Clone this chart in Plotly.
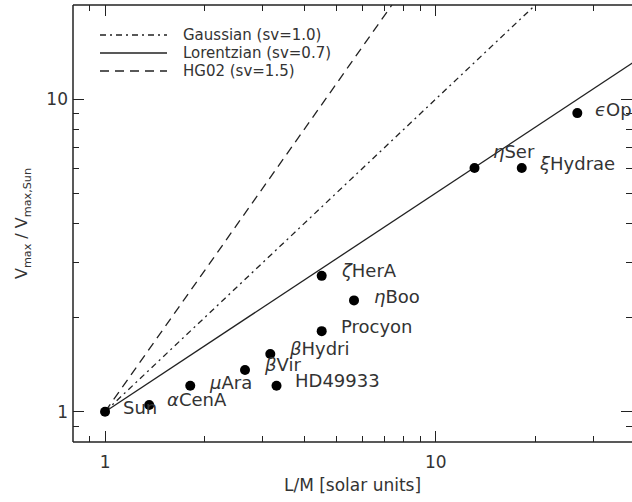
import plotly.graph_objects as go
import math

# ---------------- data ----------------
star_names = ["Sun", "<i>α</i>CenA", "<i>μ</i>Ara", "<i>β</i>Vir", "<i>β</i>Hydri",
              "HD49933", "Procyon", "<i>ζ</i>HerA", "<i>η</i>Boo", "<i>η</i>Ser",
              "<i>ξ</i>Hydrae", "<i>ϵ</i>Oph"]
star_lm = [1.0, 1.36, 1.81, 2.65, 3.16, 3.30, 4.52, 4.52, 5.66, 13.1, 18.2, 26.8]
star_vmax = [1.0, 1.05, 1.21, 1.36, 1.53, 1.21, 1.81, 2.72, 2.27, 6.02, 6.02, 9.02]

model_names = ["Gaussian (sv=1.0)", "Lorentzian (sv=0.7)", "HG02 (sv=1.5)"]
gauss_x = [1.0, 20.0]
gauss_y = [1.0, 20.0]
lor_x = [1.0, 40.0]
lor_y = [1.0, 13.2]
hg_x = [1.0, 7.37]
hg_y = [1.0, 20.0]

x_ticks = [1, 10]
y_ticks = [1, 10]
x_minor = [0.9, 2, 3, 4, 5, 6, 7, 8, 9, 20, 30]
y_minor = [0.9, 2, 3, 4, 5, 6, 7, 8, 9]

# ---------------- styling ----------------
W, H = 632, 502
ML, MR, MT, MB = 73, 0, 5, 60
FONT = "DejaVu Sans"
INK = "#222222"
TXT = "#333333"
dash_styles = ["6px,4px,2px,4px", "solid", "9px,6px"]
# label offsets in pixels (dx right, dy up), per star
label_dx = [16, 16, 17, 17, 17, 16, 17, 17, 18, 16, 15, 16]
label_dy = [4, 6, 3, 5, 5, 5, 5, 5, 4, 17, 5, 4]

fig = go.Figure()
series = [(gauss_x, gauss_y), (lor_x, lor_y), (hg_x, hg_y)]
for name, (xs, ys), d in zip(model_names, series, dash_styles):
    fig.add_trace(go.Scatter(x=xs, y=ys, mode="lines", name=name, showlegend=False,
                             line=dict(color=INK, width=1.3, dash=d), cliponaxis=True))

fig.add_trace(go.Scatter(x=star_lm, y=star_vmax, mode="markers", name="stars",
                         showlegend=False, cliponaxis=False,
                         marker=dict(color="black", size=10)))

# invisible trace to activate the mirror (top/right) axes
fig.add_trace(go.Scatter(x=[1], y=[1], xaxis="x2", yaxis="y2", mode="markers",
                         marker=dict(opacity=0), showlegend=False, hoverinfo="skip"))

for nm, xv, yv, dx, dy in zip(star_names, star_lm, star_vmax, label_dx, label_dy):
    fig.add_annotation(x=math.log10(xv), y=math.log10(yv), text=nm, showarrow=False,
                       xanchor="left", yanchor="middle", xshift=dx, yshift=dy,
                       font=dict(family=FONT, size=18, color=TXT))

# manual legend (pixel -> paper)
pw, ph = W - ML - MR, H - MT - MB
def px(x):
    return (x - ML) / pw
def py(y):
    return (H - MB - y) / ph

leg_rows = [35, 53, 71]
for name, d, yy in zip(model_names, dash_styles, leg_rows):
    fig.add_shape(type="line", xref="paper", yref="paper",
                  x0=px(100), x1=px(167), y0=py(yy), y1=py(yy),
                  line=dict(color=INK, width=1.3, dash=d))
    fig.add_annotation(xref="paper", yref="paper", x=px(181), y=py(yy), text=name,
                       showarrow=False, xanchor="left", yanchor="middle",
                       font=dict(family=FONT, size=15, color=TXT))

# frame lines (left, top, bottom) ; right edge lies just outside the view
for x0, y0, x1, y1 in [(0, 0, 0, 1), (0, 1, 1, 1), (0, 0, 1, 0)]:
    fig.add_shape(type="line", xref="paper", yref="paper", x0=x0, y0=y0, x1=x1, y1=y1,
                  line=dict(color=INK, width=1.5))

x_rng = [math.log10(0.8), math.log10(0.8) + (pw / 330.7)]
y_rng = [math.log10(0.8), math.log10(20)]
tick_common = dict(showline=False, showgrid=False, zeroline=False, automargin=False,
                   ticks="inside", ticklen=11, tickwidth=1.3, tickcolor=INK)

fig.update_layout(
    xaxis=dict(type="log", range=x_rng, tickvals=x_ticks,
               ticktext=[str(v) for v in x_ticks], ticklabelstandoff=8,
               tickfont=dict(family=FONT, size=17, color=TXT),
               minor=dict(tickvals=x_minor, ticks="inside", ticklen=6,
                          tickwidth=1.3, tickcolor=INK, showgrid=False),
               title=dict(text="L/M [solar units]", standoff=8,
                          font=dict(family=FONT, size=17, color=TXT)),
               **tick_common),
    yaxis=dict(type="log", range=y_rng, tickvals=y_ticks,
               ticktext=[str(v) for v in y_ticks], ticklabelstandoff=4,
               tickfont=dict(family=FONT, size=17, color=TXT),
               minor=dict(tickvals=y_minor, ticks="inside", ticklen=6,
                          tickwidth=1.3, tickcolor=INK, showgrid=False),
               title=dict(text="V<sub>max</sub> / V<sub>max,Sun</sub>", standoff=14,
                          font=dict(family=FONT, size=16, color=TXT)),
               **tick_common),
    xaxis2=dict(type="log", range=x_rng, overlaying="x", side="top", anchor="y2",
                tickvals=x_ticks, showticklabels=False,
                minor=dict(tickvals=x_minor, ticks="inside", ticklen=6,
                           tickwidth=1.3, tickcolor=INK, showgrid=False),
                **tick_common),
    yaxis2=dict(type="log", range=y_rng, overlaying="y", side="right", anchor="x2",
                tickvals=y_ticks, showticklabels=False,
                minor=dict(tickvals=y_minor, ticks="inside", ticklen=6,
                           tickwidth=1.3, tickcolor=INK, showgrid=False),
                **tick_common),
    width=W, height=H, margin=dict(l=ML, r=MR, t=MT, b=MB),
    plot_bgcolor="white", paper_bgcolor="white", showlegend=False,
)

fig.write_html("out.html", config={"displayModeBar": False},
               post_script="document.body.style.margin='0';"
                           "document.body.style.overflow='hidden';")
